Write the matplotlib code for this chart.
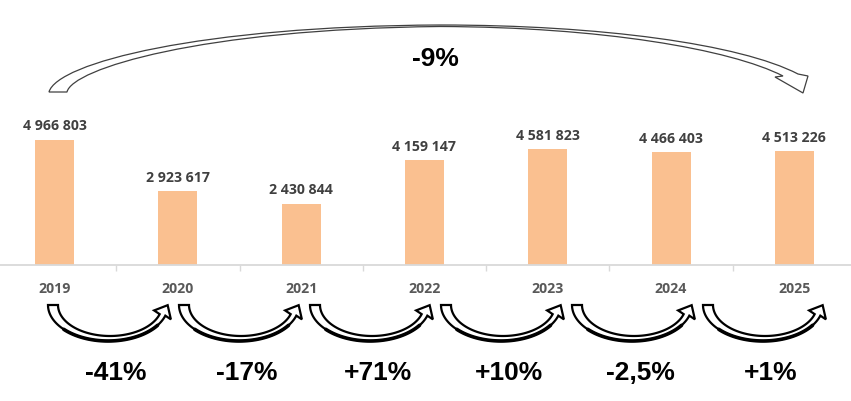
import numpy as np
import matplotlib.pyplot as plt
from matplotlib.path import Path
from matplotlib.patches import PathPatch, Polygon

# data
years = ["2019", "2020", "2021", "2022", "2023", "2024", "2025"]
values = [4966803, 2923617, 2430844, 4159147, 4581823, 4466403, 4513226]
changes = ["-41%", "-17%", "+71%", "+10%", "-2,5%", "+1%"]
total_change = "-9%"

W, H = 851, 402
bar_color = "#FAC090"
label_font = "Open Sans"
pct_font = "Liberation Sans"


def fmt(v):
    return "{:,}".format(v).replace(",", " ")


fig = plt.figure(figsize=(W / 100, H / 100), dpi=100)
# plot area is a little wider than the picture (cropped in the original)
ax = fig.add_axes([-7 / W, (H - 266) / H, 863 / W, 266 / H])
x = np.arange(len(years))
ax.bar(x, values, width=0.316, color=bar_color, zorder=2)
ax.set_xlim(-0.5, len(years) - 0.5)
ax.set_ylim(0, 10.544e6)

for xi, v in zip(x, values):
    ax.annotate(fmt(v), xy=(xi, v), xytext=(0, 10.5), textcoords="offset pixels",
                ha="center", va="baseline", fontsize=10.2, fontweight="bold",
                color="#404040", family=label_font)

for s in ["top", "right", "left"]:
    ax.spines[s].set_visible(False)
ax.spines["bottom"].set_color("#D9D9D9")
ax.spines["bottom"].set_linewidth(1.3)
ax.set_yticks([])
ax.set_xticks(x)
ax.set_xticklabels(years, fontsize=10.2, fontweight="bold", color="#595959",
                   family=label_font)
ax.set_xticks(np.arange(-0.5, len(years)), minor=True)
ax.tick_params(axis="x", which="major", length=0, pad=19.4)
ax.tick_params(axis="x", which="minor", length=4, width=1, color="#D9D9D9")
plt.setp(ax.get_xticklabels(), va="baseline")

# overlay in pixel coordinates for the arrows and percentage labels
ov = fig.add_axes([0, 0, 1, 1])
ov.set_xlim(0, W)
ov.set_ylim(H, 0)
ov.axis("off")
ov.patch.set_alpha(0)


def u_arrow(x0, cy=306):
    cxo, rxo, ryo = x0 + 60, 60, 36
    cxi, rxi, ryi = x0 + 62, 52, 31
    t_end = 0.3
    th = np.linspace(np.pi, t_end, 80)
    outer = np.column_stack([cxo + rxo * np.cos(th), cy + ryo * np.sin(th)])
    inner = np.column_stack([cxi + rxi * np.cos(th), cy + ryi * np.sin(th)])
    base = (outer[-1] + inner[-1]) / 2
    a = np.deg2rad(62)
    d = np.array([np.cos(a), -np.sin(a)])
    n = np.array([-d[1], d[0]])
    tip = base + d * 11
    pts = np.vstack([outer, base + n * 9.5, tip, base - n * 9.5, inner[::-1]])
    ov.add_patch(Polygon(pts, closed=True, facecolor="white", edgecolor="black",
                         lw=1.6, joinstyle="miter"))
    thk = np.linspace(2.4, 0.6, 60)
    ov.plot(cxo + rxo * np.cos(thk), cy + ryo * np.sin(thk), color="black",
            lw=2.6, solid_capstyle="round")


for i, lab in enumerate(changes):
    u_arrow(48 + 131 * i)
    ov.text(116 + 131 * i, 380, lab, ha="center", va="baseline", fontsize=19,
            fontweight="bold", family=pct_font, color="black")

# long arrow over the chart
verts = [
    (49, 93), (57, 64), (200, 27), (440, 26),
    (600, 26), (740, 45), (798, 75),
    (808, 77), (803, 94), (775, 78), (783, 77),
    (730, 50), (600, 28), (440, 27.5),
    (200, 30), (72, 70), (67, 93),
    (49, 93),
]
codes = ([Path.MOVETO] + [Path.CURVE4] * 6 + [Path.LINETO] * 4 +
         [Path.CURVE4] * 6 + [Path.CLOSEPOLY])
ov.add_patch(PathPatch(Path(verts, codes), facecolor="white",
                       edgecolor="#404040", lw=0.9))
ov.text(435, 66, total_change, ha="center", va="baseline", fontsize=19,
        fontweight="bold", family=pct_font, color="black")

fig.savefig("out.png", dpi=100)
